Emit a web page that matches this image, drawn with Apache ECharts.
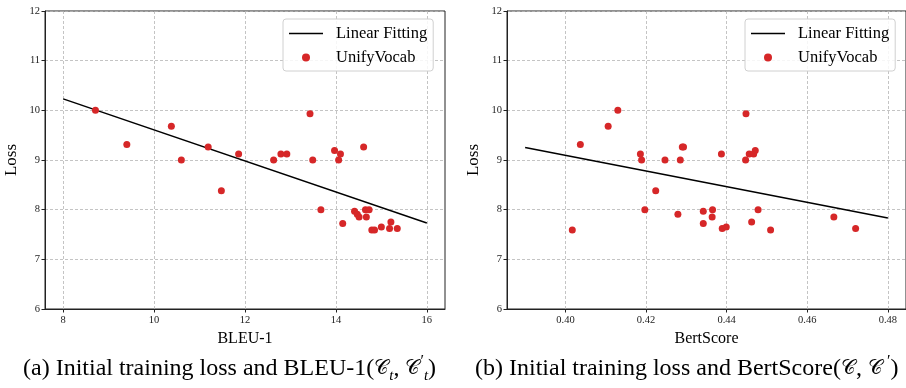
<!DOCTYPE html>
<html><head><meta charset="utf-8">
<script src="https://cdn.jsdelivr.net/npm/echarts@6/dist/echarts.min.js"></script>
<style>html,body{margin:0;padding:0;background:#fff}#c{width:906px;height:388px}</style>
</head><body><div id="c"></div>
<script>
const bleuX = [8.71,9.40,10.38,10.60,11.19,11.48,11.86,12.63,12.79,12.92,13.43,13.49,13.67,13.97,14.06,14.10,14.15,14.41,14.47,14.51,14.61,14.65,14.73,14.67,14.79,14.85,15.00,15.18,15.21,15.35];
const bleuLoss = [10.0,9.31,9.68,9.0,9.26,8.38,9.12,9.0,9.12,9.12,9.93,9.0,8.0,9.19,9.0,9.12,7.72,7.97,7.91,7.85,9.26,8.0,8.0,7.85,7.59,7.59,7.65,7.62,7.75,7.62];
const bertX = [0.4017,0.4037,0.4106,0.4130,0.4186,0.4189,0.4197,0.4224,0.4247,0.4279,0.4285,0.4290,0.4293,0.4342,0.4342,0.4365,0.4364,0.4387,0.4389,0.4399,0.4447,0.4448,0.4456,0.4462,0.4467,0.4471,0.4478,0.4509,0.4666,0.4720];
const bertLoss = [7.59,9.31,9.68,10.0,9.12,9.0,8.0,8.38,9.0,7.91,9.0,9.26,9.26,7.97,7.72,8.0,7.85,9.12,7.62,7.65,9.0,9.93,9.12,7.75,9.12,9.19,8.0,7.59,7.85,7.62];
const fitBleuX = [8, 16];
const fitBleuY = [10.23, 7.73];
const fitBertX = [0.39, 0.48];
const fitBertY = [9.25, 7.83];
const yTicks = [6, 7, 8, 9, 10, 11, 12];
const bleuTicks = [8, 10, 12, 14, 16];
const bertTicks = [0.40, 0.42, 0.44, 0.46, 0.48];
const names = ['Linear Fitting', 'UnifyVocab'];

const SERIF = '"Liberation Serif","DejaVu Serif",serif';
const dark = '#222';
const red = '#d62728';
const zip = (a, b) => a.map((v, i) => [v, b[i]]);

function xAxis(idx, min, max, ticks, name, fmt) {
  return {
    type: 'value', gridIndex: idx, min: min, max: max,
    name: name, nameLocation: 'middle', nameGap: 22,
    nameTextStyle: {fontFamily: SERIF, fontSize: 16, color: '#000'},
    axisLine: {show: true, onZero: false, lineStyle: {color: dark, width: 1}},
    axisTick: {show: true, length: 3.5, inside: false, customValues: ticks, lineStyle: {color: dark}},
    axisLabel: {customValues: ticks, fontFamily: SERIF, fontSize: 10.5, color: dark, margin: 6, formatter: fmt},
    splitLine: {show: true, lineStyle: {color: '#b5b5b5', type: [3, 2], width: 0.8}}
  };
}
function yAxis(idx) {
  return {
    type: 'value', gridIndex: idx, min: 6, max: 12, interval: 1,
    name: 'Loss', nameLocation: 'middle', nameGap: 25,
    nameTextStyle: {fontFamily: SERIF, fontSize: 17, color: '#000'},
    axisLine: {show: true, onZero: false, lineStyle: {color: dark, width: 1}},
    axisTick: {show: true, length: 3.5, lineStyle: {color: dark}},
    axisLabel: {fontFamily: SERIF, fontSize: 10.5, color: dark, margin: 5,
      formatter: v => (yTicks.indexOf(v) >= 0 ? String(v) : '')},
    splitLine: {show: true, lineStyle: {color: '#b5b5b5', type: [3, 2], width: 0.8}}
  };
}
const lineIcon = 'path://M0,0 M0,3.3 L34,3.3 L34,4.7 L0,4.7 Z M34,8';
function legend(left) {
  return {
    left: left, top: 19, orient: 'vertical',
    data: [{name: names[0], icon: lineIcon}, {name: names[1], icon: 'circle'}],
    itemWidth: 34, itemHeight: 8, itemGap: 7,
    padding: [6, 6, 5, 6],
    backgroundColor: 'rgba(255,255,255,0.85)', borderColor: '#d0d0d0', borderWidth: 1, borderRadius: 3,
    textStyle: {fontFamily: SERIF, fontSize: 16.5, color: '#000', padding: [0, 0, 0, 8]},
    selectedMode: false
  };
}
const capBase = {fontFamily: SERIF, fontWeight: 'normal', color: '#000', lineHeight: 30};
const capRich = {
  m: Object.assign({}, capBase, {fontSize: 24}),
  c: Object.assign({}, capBase, {fontFamily: '"DejaVu Serif","Noto Sans",serif', fontSize: 20}),
  sub: Object.assign({}, capBase, {fontSize: 15, fontStyle: 'italic', verticalAlign: 'bottom'}),
  sup: Object.assign({}, capBase, {fontSize: 16, verticalAlign: 'top'})
};

const option = {
  animation: false,
  backgroundColor: '#fff',
  title: [
    {text: '{m|(a) Initial training loss and BLEU-1(}{c|𝒞}{sub|t}{m|, }{c|𝒞}{sup|′}{sub|t}{m|)}',
     left: 23, top: 354, padding: 0, textStyle: {fontWeight: 'normal', rich: capRich}},
    {text: '{m|(b) Initial training loss and BertScore(}{c|𝒞}{m|, }{c|𝒞}{sup| ′}{m|)}',
     left: 475, top: 354, padding: 0, textStyle: {fontWeight: 'normal', rich: capRich}}
  ],
  grid: [
    {left: 45, top: 11, width: 400, height: 298, show: true, borderColor: dark, borderWidth: 1, backgroundColor: 'transparent'},
    {left: 507, top: 11, width: 400, height: 298, show: true, borderColor: dark, borderWidth: 1, backgroundColor: 'transparent'}
  ],
  xAxis: [
    xAxis(0, 7.6, 16.4, bleuTicks, 'BLEU-1', v => String(v)),
    xAxis(1, 0.3855, 0.4845, bertTicks, 'BertScore', v => v.toFixed(2))
  ],
  yAxis: [yAxis(0), yAxis(1)],
  legend: [legend(283), legend(745)],
  series: [
    {name: names[0], type: 'line', xAxisIndex: 0, yAxisIndex: 0, symbol: 'none', showSymbol: false,
     lineStyle: {color: '#000', width: 1.5}, itemStyle: {color: '#000'}, data: zip(fitBleuX, fitBleuY), z: 3},
    {name: names[1], type: 'scatter', xAxisIndex: 0, yAxisIndex: 0, symbolSize: 7,
     itemStyle: {color: red, opacity: 1}, data: zip(bleuX, bleuLoss), z: 4},
    {name: names[0], type: 'line', xAxisIndex: 1, yAxisIndex: 1, symbol: 'none', showSymbol: false,
     lineStyle: {color: '#000', width: 1.5}, itemStyle: {color: '#000'}, data: zip(fitBertX, fitBertY), z: 3},
    {name: names[1], type: 'scatter', xAxisIndex: 1, yAxisIndex: 1, symbolSize: 7,
     itemStyle: {color: red, opacity: 1}, data: zip(bertX, bertLoss), z: 4}
  ]
};
const chart = echarts.init(document.getElementById('c'), null, {renderer: 'canvas'});
chart.setOption(option);
</script></body></html>
